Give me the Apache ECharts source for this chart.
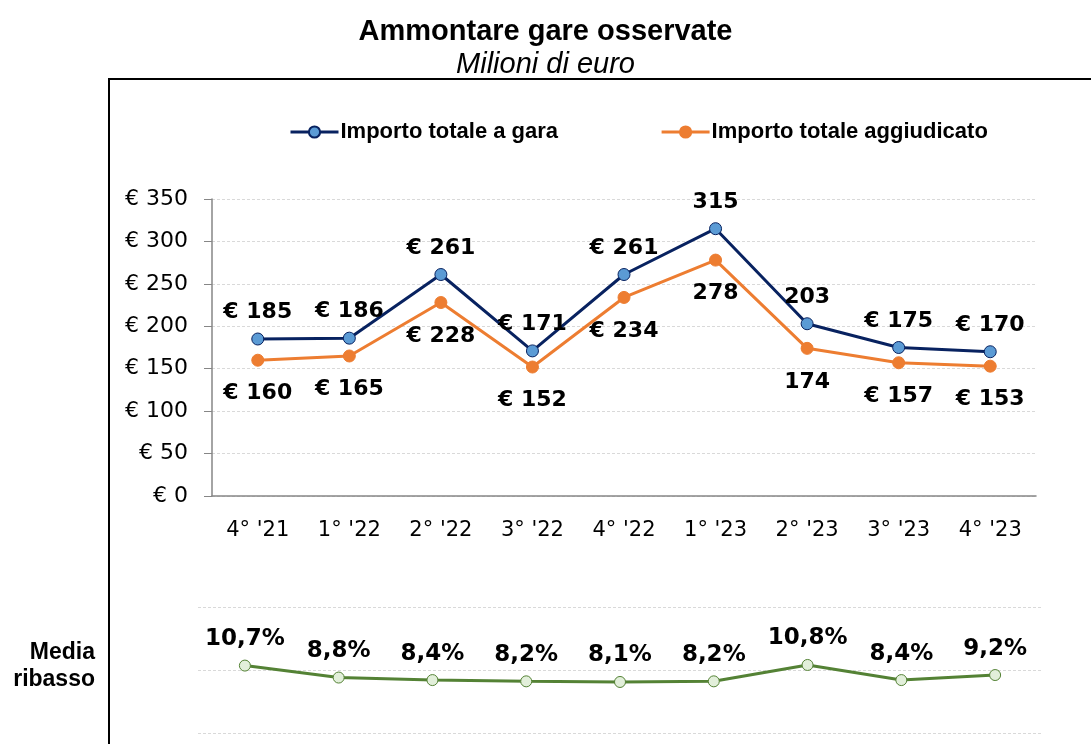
<!DOCTYPE html>
<html>
<head>
<meta charset="utf-8">
<script src="https://cdn.jsdelivr.net/npm/echarts@6/dist/echarts.min.js"></script>
<style>
html,body{margin:0;padding:0;background:#fff;}
#main{width:1091px;height:744px;}
</style>
</head>
<body>
<div id="main"></div>
<script>
// trimestri
var categories = ["4° '21", "1° '22", "2° '22", "3° '22", "4° '22", "1° '23", "2° '23", "3° '23", "4° '23"];
// milioni di euro
var importoGara = [185, 186, 261, 171, 261, 315, 203, 175, 170];
var importoAggiudicato = [160, 165, 228, 152, 234, 278, 174, 157, 153];
// media ribasso %
var mediaRibasso = [10.7, 8.8, 8.4, 8.2, 8.1, 8.2, 10.8, 8.4, 9.2];
// etichette senza simbolo euro
var noEuro = [5, 6];
var yTicks = { min: 0, max: 350, interval: 50 };

var chart = echarts.init(document.getElementById('main'));

function euroLabel(p) {
    return noEuro.indexOf(p.dataIndex) >= 0 ? String(p.value) : '€ ' + p.value;
}

var lblFont = { fontFamily: 'DejaVu Sans', fontWeight: 'bold', fontSize: 22, color: '#000' };

var option = {
    backgroundColor: '#fff',
    animation: false,
    title: {
        text: 'Ammontare gare osservate',
        subtext: 'Milioni di euro',
        left: 'center',
        top: 12,
        itemGap: 4,
        textStyle: { fontFamily: 'Liberation Sans', fontWeight: 'bold', fontSize: 29, color: '#000' },
        subtextStyle: { fontFamily: 'Liberation Sans', fontStyle: 'italic', fontSize: 29, color: '#000' }
    },
    legend: {
        left: 284,
        top: 116,
        itemGap: 102,
        itemWidth: 48,
        itemHeight: 14,
        data: ['Importo totale a gara', 'Importo totale aggiudicato'],
        lineStyle: { width: 3 },
        textStyle: { fontFamily: 'Liberation Sans', fontWeight: 'bold', fontSize: 22, color: '#000', padding: [0, 0, 0, -3] }
    },
    graphic: [
        {
            type: 'rect',
            shape: { x: 109, y: 79, width: 1200, height: 800 },
            style: { fill: 'none', stroke: '#000', lineWidth: 2 },
            silent: true
        },
        {
            type: 'text',
            x: 95,
            y: 666,
            style: {
                text: 'Media\nribasso',
                align: 'right',
                verticalAlign: 'middle',
                lineHeight: 27,
                font: 'bold 23px "Liberation Sans"',
                fill: '#000'
            }
        }
    ],
    grid: [
        { left: 212, right: 55, top: 199, bottom: 248 },
        { left: 198, right: 49, top: 607, bottom: 11 }
    ],
    xAxis: [
        {
            type: 'category',
            gridIndex: 0,
            data: categories,
            axisLine: { lineStyle: { color: '#868686', width: 1.5 } },
            axisTick: { show: false },
            axisLabel: { margin: 24, fontFamily: 'DejaVu Sans', fontSize: 21, color: '#000' }
        },
        {
            type: 'category',
            gridIndex: 1,
            data: categories,
            axisLine: { show: false },
            axisTick: { show: false },
            axisLabel: { show: false }
        }
    ],
    yAxis: [
        {
            type: 'value',
            gridIndex: 0,
            min: yTicks.min,
            max: yTicks.max,
            interval: yTicks.interval,
            axisLine: { show: true, lineStyle: { color: '#868686', width: 1.5 } },
            axisTick: { show: true, length: 8, lineStyle: { color: '#868686' } },
            axisLabel: {
                margin: 24,
                fontFamily: 'DejaVu Sans',
                fontSize: 22,
                color: '#000',
                formatter: function (v) { return '€ ' + v; }
            },
            splitLine: { lineStyle: { color: '#d9d9d9', type: [3, 2] } }
        },
        {
            type: 'value',
            gridIndex: 1,
            min: 0,
            max: 20,
            interval: 10,
            axisLine: { show: false },
            axisTick: { show: false },
            axisLabel: { show: false },
            splitLine: { lineStyle: { color: '#d9d9d9', type: [3, 2] } }
        }
    ],
    series: [
        {
            name: 'Importo totale a gara',
            type: 'line',
            xAxisIndex: 0,
            yAxisIndex: 0,
            data: importoGara,
            symbol: 'circle',
            symbolSize: 12,
            lineStyle: { color: '#082260', width: 3 },
            itemStyle: { color: '#5b9bd5', borderColor: '#082260', borderWidth: 1 },
            label: Object.assign({ show: true, position: 'top', distance: 9, formatter: euroLabel }, lblFont),
            z: 3
        },
        {
            name: 'Importo totale aggiudicato',
            type: 'line',
            xAxisIndex: 0,
            yAxisIndex: 0,
            data: importoAggiudicato,
            symbol: 'circle',
            symbolSize: 12,
            lineStyle: { color: '#ed7d31', width: 3 },
            itemStyle: { color: '#ed7d31', borderColor: '#ed7d31', borderWidth: 1 },
            label: Object.assign({ show: true, position: 'bottom', distance: 16, formatter: euroLabel }, lblFont),
            z: 2
        },
        {
            name: 'Media ribasso',
            type: 'line',
            xAxisIndex: 1,
            yAxisIndex: 1,
            data: mediaRibasso,
            symbol: 'circle',
            symbolSize: 11,
            lineStyle: { color: '#548235', width: 3 },
            itemStyle: { color: '#e2efda', borderColor: '#548235', borderWidth: 1 },
            label: Object.assign({}, lblFont, {
                show: true,
                position: 'top',
                distance: 9,
                fontSize: 23,
                formatter: function (p) { return p.value.toFixed(1).replace('.', ',') + '%'; }
            })
        }
    ]
};

chart.setOption(option);
</script>
</body>
</html>
